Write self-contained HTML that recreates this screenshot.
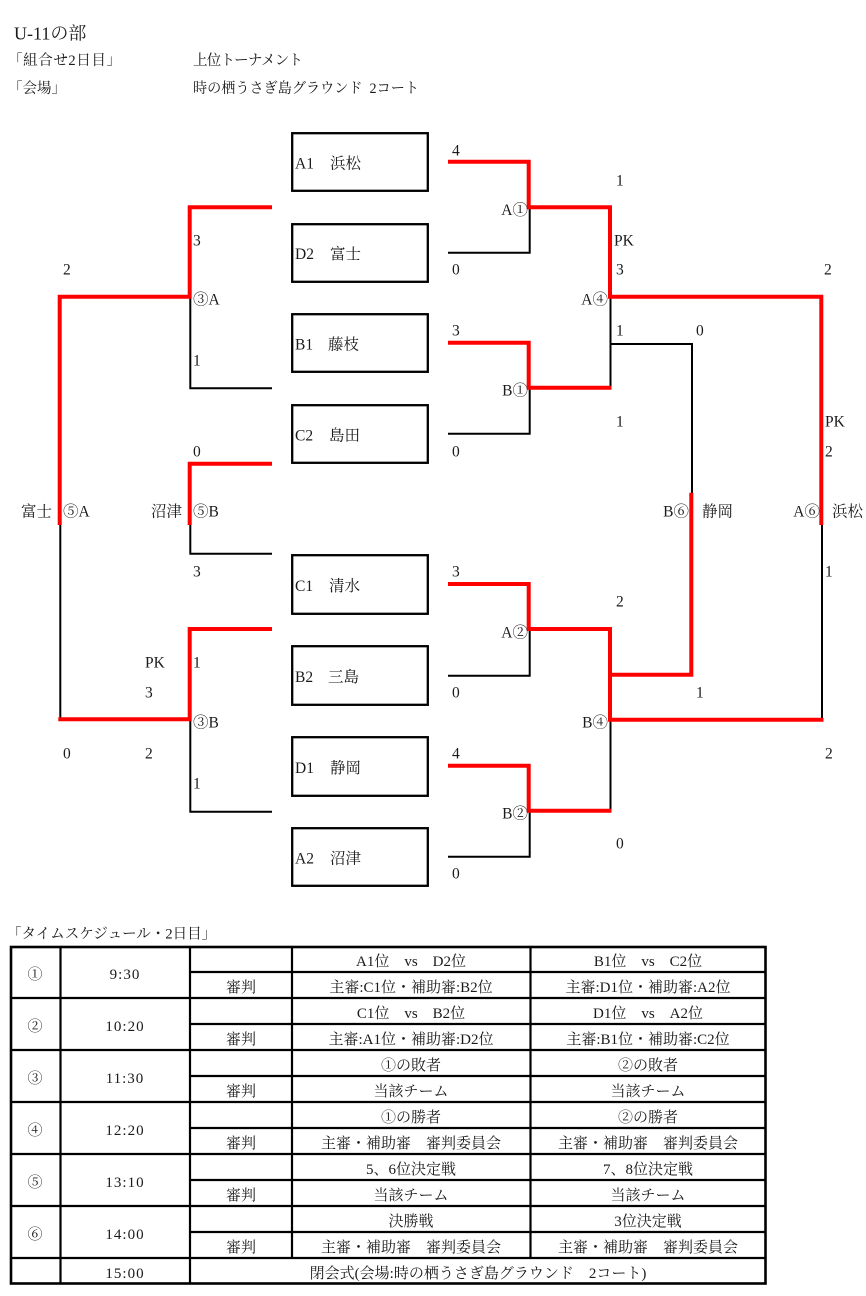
<!DOCTYPE html>
<html><head><meta charset="utf-8">
<style>
html,body{margin:0;padding:0;background:#fff;}
svg{display:block;}
text{font-family:"Liberation Serif","Noto Serif CJK SC",serif;fill:#1a1a1a;font-size:15.5px;}
.h1{font-size:18px;}
.h{font-size:14.5px;}
.t{font-size:15px;}
.r{fill:none;stroke:#ff0000;stroke-width:4;stroke-linejoin:miter;stroke-linecap:butt;}
.b{fill:none;stroke:#000;stroke-width:2;stroke-linejoin:miter;stroke-linecap:butt;}
.bx{fill:#fff;stroke:#000;stroke-width:2.3;}
.tb{stroke:#000;stroke-width:2.2;fill:none;}
</style></head><body>
<svg width="866" height="1296" viewBox="0 0 866 1296" xmlns="http://www.w3.org/2000/svg">
<!-- header -->
<text class="h1" x="14" y="39.5">U-11の部</text>
<text class="h" x="8" y="65" textLength="113" lengthAdjust="spacing">「組合せ2日目」</text>
<text class="h" x="193" y="65" textLength="110" lengthAdjust="spacing">上位トーナメント</text>
<text class="h" x="8" y="93">「会場」</text>
<text class="h" x="193" y="93" textLength="226" lengthAdjust="spacingAndGlyphs">時の栖うさぎ島グラウンド&#160;&#160;2コート</text>

<!-- boxes -->
<rect class="bx" x="292.2" y="133.2" width="135.6" height="57.6"/>
<rect class="bx" x="292.2" y="224.2" width="135.6" height="57.6"/>
<rect class="bx" x="292.2" y="314.2" width="135.6" height="57.6"/>
<rect class="bx" x="292.2" y="405.2" width="135.6" height="57.6"/>
<rect class="bx" x="292.2" y="555.2" width="135.6" height="58.6"/>
<rect class="bx" x="292.2" y="646.2" width="135.6" height="58.6"/>
<rect class="bx" x="292.2" y="737.2" width="135.6" height="58.6"/>
<rect class="bx" x="292.2" y="828.2" width="135.6" height="57.6"/>

<text x="295" y="168.5">A1</text><text x="330" y="168.5">浜松</text>
<text x="295" y="259">D2</text><text x="330" y="259">富士</text>
<text x="295" y="349.5">B1</text><text x="328" y="349.5">藤枝</text>
<text x="295" y="440.5">C2</text><text x="329" y="440.5">島田</text>
<text x="295" y="591">C1</text><text x="329" y="591">清水</text>
<text x="295" y="682">B2</text><text x="328" y="682">三島</text>
<text x="295" y="773">D1</text><text x="330" y="773">静岡</text>
<text x="295" y="863.5">A2</text><text x="330" y="863.5">沼津</text>

<!-- black lines -->
<path class="b" d="M190.3,297 V388.3 H272"/>
<path class="b" d="M190.3,525 V553.7 H272"/>
<path class="b" d="M60.3,525 V720"/>
<path class="b" d="M190.3,720 V811.7 H272"/>
<path class="b" d="M448,252.7 H529.7 V207"/>
<path class="b" d="M610.5,297 V388"/>
<path class="b" d="M610.5,344 H692 V493"/>
<path class="b" d="M448,433.7 H529.7 V388"/>
<path class="b" d="M822,525 V720"/>
<path class="b" d="M448,675.7 H529.7 V629"/>
<path class="b" d="M610.5,720 V811"/>
<path class="b" d="M448,856.7 H529.7 V811"/>

<!-- red lines -->
<path class="r" d="M272,207.3 H189.7 V296.7 H59.7 V525"/>
<path class="r" d="M272,463.7 H189.7 V525"/>
<path class="r" d="M272,629 H189.7 V719.3 H58.3"/>
<path class="r" d="M448,161.7 H528.7 V207.3 H610 V296.7 H821.3 V525"/>
<path class="r" d="M448,342.7 H528.7 V387.7 H611.5"/>
<path class="r" d="M448,584 H528.7 V629 H610 V719.7 H823.5"/>
<path class="r" d="M610,674.7 H691.3 V492.7"/>
<path class="r" d="M448,765.7 H528.7 V810.7 H611.5"/>

<!-- left labels -->
<text x="63" y="274.5">2</text>
<text x="193" y="245.5">3</text>
<text x="193" y="304.5">③A</text>
<text x="193" y="365.5">1</text>
<text x="193" y="456.5">0</text>
<text x="21" y="516.5">富士</text>
<text x="63" y="516.5">⑤A</text>
<text x="151" y="516.5">沼津</text>
<text x="193" y="516.5">⑤B</text>
<text x="193" y="576.5">3</text>
<text x="145" y="667.5">PK</text>
<text x="193" y="667.5">1</text>
<text x="145" y="697.5">3</text>
<text x="193" y="727.5">③B</text>
<text x="63" y="758.5">0</text>
<text x="145" y="758.5">2</text>
<text x="193" y="788.5">1</text>

<!-- right labels -->
<text x="452" y="155.5">4</text>
<text x="616" y="185.5">1</text>
<text x="528" y="215" text-anchor="end">A①</text>
<text x="614" y="245.5">PK</text>
<text x="452" y="274.5">0</text>
<text x="616" y="274.5">3</text>
<text x="824" y="274.5">2</text>
<text x="608" y="304.5" text-anchor="end">A④</text>
<text x="452" y="335.5">3</text>
<text x="616" y="335.5">1</text>
<text x="696" y="335.5">0</text>
<text x="528" y="395.5" text-anchor="end">B①</text>
<text x="616" y="426.5">1</text>
<text x="825" y="426.5">PK</text>
<text x="452" y="456.5">0</text>
<text x="825" y="456.5">2</text>
<text x="689" y="516.5" text-anchor="end">B⑥</text>
<text x="702" y="516.5">静岡</text>
<text x="820" y="516.5" text-anchor="end">A⑥</text>
<text x="832" y="516.5">浜松</text>
<text x="452" y="576.5">3</text>
<text x="825" y="576.5">1</text>
<text x="616" y="606.5">2</text>
<text x="528" y="637.5" text-anchor="end">A②</text>
<text x="452" y="697.5">0</text>
<text x="696" y="697.5">1</text>
<text x="608" y="727.5" text-anchor="end">B④</text>
<text x="452" y="758.5">4</text>
<text x="825" y="758.5">2</text>
<text x="528" y="818.5" text-anchor="end">B②</text>
<text x="616" y="848.5">0</text>
<text x="452" y="878.5">0</text>

<!-- schedule title -->
<text class="h" x="7" y="938.5">「タイムスケジュール・2日目」</text>

<!-- table lines -->
<g class="tb">
<rect x="11" y="947" width="754.5" height="336.5" stroke-width="2.6"/>
<path d="M60.5,946 V1284 M190,946 V1284 M292,946 V1258 M530.5,946 V1258"/>
<path d="M10,998 H766 M10,1050 H766 M10,1102 H766 M10,1154 H766 M10,1206 H766 M10,1258 H766"/>
<path d="M190,972 H766 M190,1024 H766 M190,1076 H766 M190,1128 H766 M190,1180 H766 M190,1232 H766"/>
</g>

<g class="t" text-anchor="middle">
<!-- group 1 -->
<text class="t" x="35" y="979">①</text>
<text class="t" x="125" y="979" letter-spacing="1">9:30</text>
<text class="t" x="411" y="966">A1位　vs　D2位</text>
<text class="t" x="648" y="966">B1位　vs　C2位</text>
<text class="t" x="241" y="992">審判</text>
<text class="t" x="411" y="992">主審:C1位・補助審:B2位</text>
<text class="t" x="648" y="992">主審:D1位・補助審:A2位</text>
<!-- group 2 -->
<text class="t" x="35" y="1031">②</text>
<text class="t" x="125" y="1031" letter-spacing="1">10:20</text>
<text class="t" x="411" y="1018">C1位　vs　B2位</text>
<text class="t" x="648" y="1018">D1位　vs　A2位</text>
<text class="t" x="241" y="1044">審判</text>
<text class="t" x="411" y="1044">主審:A1位・補助審:D2位</text>
<text class="t" x="648" y="1044">主審:B1位・補助審:C2位</text>
<!-- group 3 -->
<text class="t" x="35" y="1083">③</text>
<text class="t" x="125" y="1083" letter-spacing="1">11:30</text>
<text class="t" x="411" y="1070">①の敗者</text>
<text class="t" x="648" y="1070">②の敗者</text>
<text class="t" x="241" y="1096">審判</text>
<text class="t" x="411" y="1096">当該チーム</text>
<text class="t" x="648" y="1096">当該チーム</text>
<!-- group 4 -->
<text class="t" x="35" y="1135">④</text>
<text class="t" x="125" y="1135" letter-spacing="1">12:20</text>
<text class="t" x="411" y="1122">①の勝者</text>
<text class="t" x="648" y="1122">②の勝者</text>
<text class="t" x="241" y="1148">審判</text>
<text class="t" x="411" y="1148">主審・補助審　審判委員会</text>
<text class="t" x="648" y="1148">主審・補助審　審判委員会</text>
<!-- group 5 -->
<text class="t" x="35" y="1187">⑤</text>
<text class="t" x="125" y="1187" letter-spacing="1">13:10</text>
<text class="t" x="411" y="1174">5、6位決定戦</text>
<text class="t" x="648" y="1174">7、8位決定戦</text>
<text class="t" x="241" y="1200">審判</text>
<text class="t" x="411" y="1200">当該チーム</text>
<text class="t" x="648" y="1200">当該チーム</text>
<!-- group 6 -->
<text class="t" x="35" y="1239">⑥</text>
<text class="t" x="125" y="1239" letter-spacing="1">14:00</text>
<text class="t" x="411" y="1226">決勝戦</text>
<text class="t" x="648" y="1226">3位決定戦</text>
<text class="t" x="241" y="1252">審判</text>
<text class="t" x="411" y="1252">主審・補助審　審判委員会</text>
<text class="t" x="648" y="1252">主審・補助審　審判委員会</text>
<!-- last row -->
<text class="t" x="125" y="1278" letter-spacing="1">15:00</text>
<text class="t" x="478" y="1278">閉会式(会場:時の栖うさぎ島グラウンド　2コート)</text>
</g>
</svg>
</body></html>
